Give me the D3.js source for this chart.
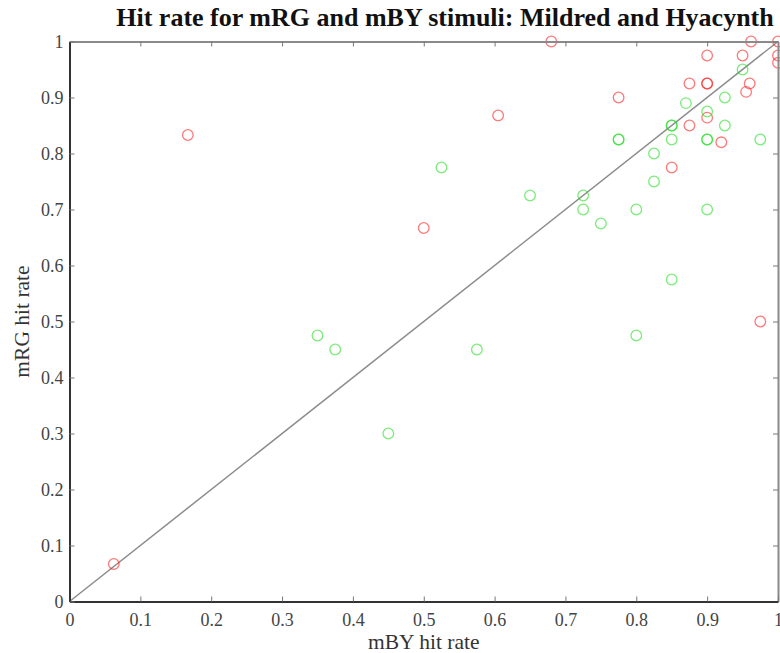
<!DOCTYPE html>
<html>
<head>
<meta charset="utf-8">
<script src="https://cdn.jsdelivr.net/npm/d3@7"></script>
<style>
  body { margin: 0; background: #fff; }
</style>
</head>
<body>
<div id="root"></div>
<script>
const w = 780;
const h = 653;

// mBY hit rate (x) / mRG hit rate (y), one pair of arrays per subject
const redX = [0.68, 0.9, 0.95, 0.962, 1, 1, 1, 0.875, 0.9, 0.9, 0.96, 0.955, 0.775, 0.605, 0.9, 0.875, 0.92, 0.85, 0.167, 0.5, 0.0625, 0.975];
const redY = [1, 0.975, 0.975, 1, 1, 0.975, 0.962, 0.925, 0.925, 0.925, 0.925, 0.91, 0.9, 0.868, 0.864, 0.85, 0.82, 0.775, 0.833, 0.667, 0.067, 0.5];

const greenX = [0.95, 0.87, 0.925, 0.9, 0.85, 0.85, 0.925, 0.775, 0.775, 0.85, 0.9, 0.9, 0.975, 0.825, 0.825, 0.65, 0.725, 0.725, 0.8, 0.9, 0.75, 0.85, 0.8, 0.525, 0.35, 0.375, 0.575, 0.45];
const greenY = [0.95, 0.89, 0.9, 0.875, 0.85, 0.85, 0.85, 0.825, 0.825, 0.825, 0.825, 0.825, 0.825, 0.8, 0.75, 0.725, 0.725, 0.7, 0.7, 0.7, 0.675, 0.575, 0.475, 0.775, 0.475, 0.45, 0.45, 0.3];

const tickVals = [0, 0.1, 0.2, 0.3, 0.4, 0.5, 0.6, 0.7, 0.8, 0.9, 1];

const padLeft = 69.5;
const padRight = 778;
const padTop = 41.5;
const padBottom = 601.5;
const serif = "'Liberation Serif', 'Times New Roman', serif";

const svg = d3
  .select("#root")
  .append("svg")
  .attr("width", w)
  .attr("height", h)
  .style("display", "block");

const xScale = d3.scaleLinear().domain([0, 1]).range([padLeft, padRight]);
const yScale = d3.scaleLinear().domain([0, 1]).range([padBottom, padTop]);

const fmt = d3.format("");

// diagonal reference line y = x
svg
  .append("line")
  .attr("x1", xScale(0))
  .attr("y1", yScale(0))
  .attr("x2", xScale(1))
  .attr("y2", yScale(1))
  .attr("stroke", "#8c8c8c")
  .attr("stroke-width", 1.5);

function drawPoints(xs, ys, color) {
  svg
    .append("g")
    .selectAll("circle")
    .data(xs.map((x, i) => ({ x: x, y: ys[i] })))
    .join("circle")
    .attr("cx", (d) => xScale(d.x))
    .attr("cy", (d) => yScale(d.y))
    .attr("r", 5.3)
    .attr("fill", "none")
    .attr("stroke", color)
    .attr("stroke-opacity", 0.6)
    .attr("stroke-width", 1.3);
}

drawPoints(redX, redY, "#ff2020");
drawPoints(greenX, greenY, "#20e020");

function styleAxis(g, color) {
  g.attr("font-family", serif).attr("font-size", 18);
  g.select(".domain").attr("stroke", color).attr("stroke-width", 2);
  g.selectAll(".tick line").attr("stroke", "#777");
  g.selectAll(".tick text").attr("fill", "#444");
}

// box: top and right sides, no labels
svg
  .append("g")
  .attr("transform", `translate(0,${padTop})`)
  .call(d3.axisTop(xScale).tickValues(tickVals).tickFormat("").tickSizeInner(-5).tickSizeOuter(0))
  .call((g) => styleAxis(g, "#8a8a8a"));

svg
  .append("g")
  .attr("transform", `translate(${padRight},0)`)
  .call(d3.axisRight(yScale).tickValues(tickVals).tickFormat("").tickSizeInner(-5).tickSizeOuter(0))
  .call((g) => styleAxis(g, "#8a8a8a"));

svg
  .append("g")
  .attr("transform", `translate(0,${padBottom})`)
  .call(d3.axisBottom(xScale).tickValues(tickVals).tickFormat(fmt).tickSizeInner(-5).tickSizeOuter(0).tickPadding(12))
  .call((g) => styleAxis(g, "#333"));

svg
  .append("g")
  .attr("transform", `translate(${padLeft},0)`)
  .call(d3.axisLeft(yScale).tickValues(tickVals).tickFormat(fmt).tickSizeInner(-5).tickSizeOuter(0).tickPadding(6))
  .call((g) => styleAxis(g, "#333"));

svg
  .append("text")
  .attr("x", 445)
  .attr("y", 26)
  .attr("text-anchor", "middle")
  .attr("font-family", serif)
  .attr("font-weight", "bold")
  .attr("font-size", 26)
  .attr("fill", "#111")
  .text("Hit rate for mRG and mBY stimuli: Mildred and Hyacynth");

svg
  .append("text")
  .attr("x", (padLeft + padRight) / 2)
  .attr("y", 649)
  .attr("text-anchor", "middle")
  .attr("font-family", serif)
  .attr("font-size", 21.5)
  .attr("fill", "#333")
  .text("mBY hit rate");

svg
  .append("text")
  .attr("transform", `translate(29, ${(padTop + padBottom) / 2}), rotate(-90)`)
  .attr("text-anchor", "middle")
  .attr("font-family", serif)
  .attr("font-size", 21.5)
  .attr("fill", "#333")
  .text("mRG hit rate");
</script>
</body>
</html>
